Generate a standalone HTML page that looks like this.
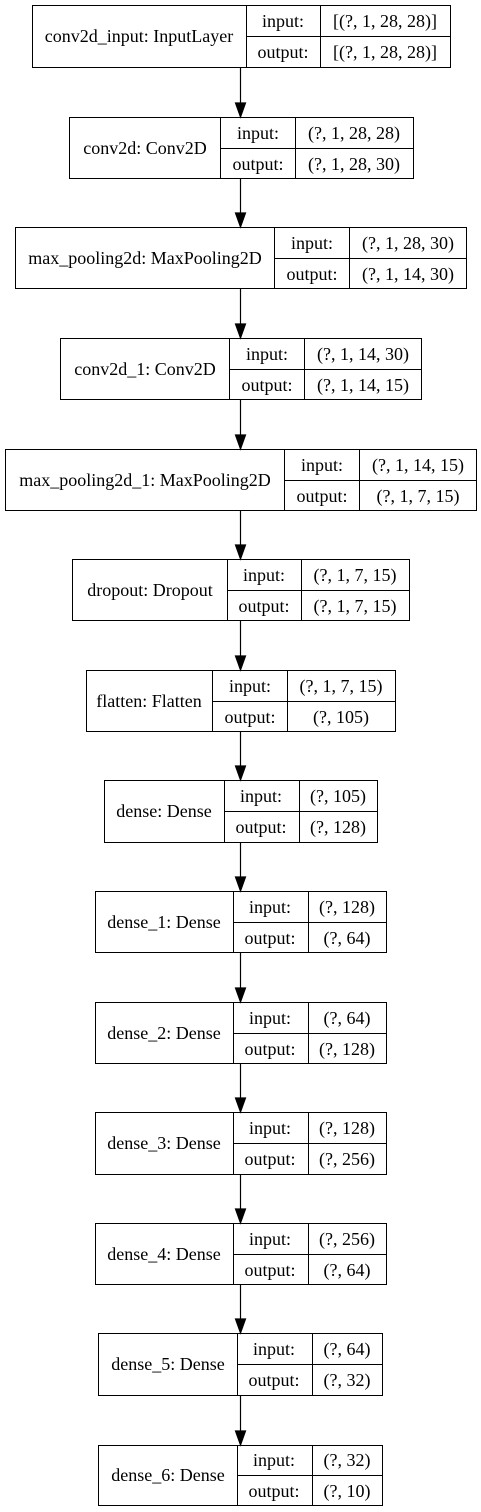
<!DOCTYPE html>
<html><head><meta charset="utf-8"><style>
html,body{margin:0;padding:0;background:#fff;}
svg{display:block;}
svg text{font-family:"Liberation Serif","Times New Roman",Times,serif;font-size:18px;fill:#000;}
</style></head><body>
<svg width="481" height="1512" viewBox="0 0 481 1512" xmlns="http://www.w3.org/2000/svg">
<g text-anchor="middle" font-family="Liberation Serif, Times New Roman, serif" font-size="18">
<rect x="32.5" y="5.5" width="418" height="62" fill="#fff" stroke="#000"/><line x1="246.5" y1="5.5" x2="246.5" y2="67.5" stroke="#000"/><line x1="320.5" y1="5.5" x2="320.5" y2="67.5" stroke="#000"/><line x1="246.5" y1="36.5" x2="450.5" y2="36.5" stroke="#000"/>
<text x="139" y="42">conv2d_input: InputLayer</text><text x="283" y="27">input:</text><text x="283" y="58">output:</text><text x="385" y="27">[(?, 1, 28, 28)]</text><text x="385" y="58">[(?, 1, 28, 28)]</text>

<rect x="69.5" y="117.5" width="344" height="61" fill="#fff" stroke="#000"/><line x1="220.5" y1="117.5" x2="220.5" y2="178.5" stroke="#000"/><line x1="295.5" y1="117.5" x2="295.5" y2="178.5" stroke="#000"/><line x1="220.5" y1="148.5" x2="413.5" y2="148.5" stroke="#000"/>
<text x="145" y="154">conv2d: Conv2D</text><text x="258" y="139">input:</text><text x="258" y="170">output:</text><text x="354" y="139">(?, 1, 28, 28)</text><text x="354" y="170">(?, 1, 28, 30)</text>

<rect x="15.5" y="227.5" width="451" height="61" fill="#fff" stroke="#000"/><line x1="274.5" y1="227.5" x2="274.5" y2="288.5" stroke="#000"/><line x1="349.5" y1="227.5" x2="349.5" y2="288.5" stroke="#000"/><line x1="274.5" y1="258.5" x2="466.5" y2="258.5" stroke="#000"/>
<text x="145" y="264">max_pooling2d: MaxPooling2D</text><text x="312" y="249">input:</text><text x="312" y="280">output:</text><text x="408" y="249">(?, 1, 28, 30)</text><text x="408" y="280">(?, 1, 14, 30)</text>

<rect x="60.5" y="338.5" width="361" height="61" fill="#fff" stroke="#000"/><line x1="229.5" y1="338.5" x2="229.5" y2="399.5" stroke="#000"/><line x1="304.5" y1="338.5" x2="304.5" y2="399.5" stroke="#000"/><line x1="229.5" y1="369.5" x2="421.5" y2="369.5" stroke="#000"/>
<text x="145" y="375">conv2d_1: Conv2D</text><text x="267" y="360">input:</text><text x="267" y="391">output:</text><text x="363" y="360">(?, 1, 14, 30)</text><text x="363" y="391">(?, 1, 14, 15)</text>

<rect x="5.5" y="449.5" width="471" height="61" fill="#fff" stroke="#000"/><line x1="284.5" y1="449.5" x2="284.5" y2="510.5" stroke="#000"/><line x1="359.5" y1="449.5" x2="359.5" y2="510.5" stroke="#000"/><line x1="284.5" y1="480.5" x2="476.5" y2="480.5" stroke="#000"/>
<text x="145" y="486">max_pooling2d_1: MaxPooling2D</text><text x="322" y="471">input:</text><text x="322" y="502">output:</text><text x="418" y="471">(?, 1, 14, 15)</text><text x="418" y="502">(?, 1, 7, 15)</text>

<rect x="72.5" y="559.5" width="337" height="61" fill="#fff" stroke="#000"/><line x1="227.5" y1="559.5" x2="227.5" y2="620.5" stroke="#000"/><line x1="301.5" y1="559.5" x2="301.5" y2="620.5" stroke="#000"/><line x1="227.5" y1="590.5" x2="409.5" y2="590.5" stroke="#000"/>
<text x="150" y="596">dropout: Dropout</text><text x="264" y="581">input:</text><text x="264" y="612">output:</text><text x="355" y="581">(?, 1, 7, 15)</text><text x="355" y="612">(?, 1, 7, 15)</text>

<rect x="86.5" y="670.5" width="309" height="61" fill="#fff" stroke="#000"/><line x1="212.5" y1="670.5" x2="212.5" y2="731.5" stroke="#000"/><line x1="287.5" y1="670.5" x2="287.5" y2="731.5" stroke="#000"/><line x1="212.5" y1="701.5" x2="395.5" y2="701.5" stroke="#000"/>
<text x="149" y="707">flatten: Flatten</text><text x="250" y="692">input:</text><text x="250" y="723">output:</text><text x="341" y="692">(?, 1, 7, 15)</text><text x="341" y="723">(?, 105)</text>

<rect x="104.5" y="780.5" width="273" height="62" fill="#fff" stroke="#000"/><line x1="224.5" y1="780.5" x2="224.5" y2="842.5" stroke="#000"/><line x1="299.5" y1="780.5" x2="299.5" y2="842.5" stroke="#000"/><line x1="224.5" y1="811.5" x2="377.5" y2="811.5" stroke="#000"/>
<text x="164" y="817">dense: Dense</text><text x="261" y="802">input:</text><text x="261" y="833">output:</text><text x="338" y="802">(?, 105)</text><text x="338" y="833">(?, 128)</text>

<rect x="95.5" y="891.5" width="291" height="61" fill="#fff" stroke="#000"/><line x1="233.5" y1="891.5" x2="233.5" y2="952.5" stroke="#000"/><line x1="308.5" y1="891.5" x2="308.5" y2="952.5" stroke="#000"/><line x1="233.5" y1="922.5" x2="386.5" y2="922.5" stroke="#000"/>
<text x="164" y="928">dense_1: Dense</text><text x="270" y="913">input:</text><text x="270" y="944">output:</text><text x="347" y="913">(?, 128)</text><text x="347" y="944">(?, 64)</text>

<rect x="95.5" y="1002.5" width="291" height="61" fill="#fff" stroke="#000"/><line x1="233.5" y1="1002.5" x2="233.5" y2="1063.5" stroke="#000"/><line x1="308.5" y1="1002.5" x2="308.5" y2="1063.5" stroke="#000"/><line x1="233.5" y1="1033.5" x2="386.5" y2="1033.5" stroke="#000"/>
<text x="164" y="1039">dense_2: Dense</text><text x="270" y="1024">input:</text><text x="270" y="1055">output:</text><text x="347" y="1024">(?, 64)</text><text x="347" y="1055">(?, 128)</text>

<rect x="95.5" y="1112.5" width="291" height="62" fill="#fff" stroke="#000"/><line x1="233.5" y1="1112.5" x2="233.5" y2="1174.5" stroke="#000"/><line x1="308.5" y1="1112.5" x2="308.5" y2="1174.5" stroke="#000"/><line x1="233.5" y1="1143.5" x2="386.5" y2="1143.5" stroke="#000"/>
<text x="164" y="1149">dense_3: Dense</text><text x="270" y="1134">input:</text><text x="270" y="1165">output:</text><text x="347" y="1134">(?, 128)</text><text x="347" y="1165">(?, 256)</text>

<rect x="95.5" y="1223.5" width="291" height="61" fill="#fff" stroke="#000"/><line x1="233.5" y1="1223.5" x2="233.5" y2="1284.5" stroke="#000"/><line x1="308.5" y1="1223.5" x2="308.5" y2="1284.5" stroke="#000"/><line x1="233.5" y1="1254.5" x2="386.5" y2="1254.5" stroke="#000"/>
<text x="164" y="1260">dense_4: Dense</text><text x="270" y="1245">input:</text><text x="270" y="1276">output:</text><text x="347" y="1245">(?, 256)</text><text x="347" y="1276">(?, 64)</text>

<rect x="98.5" y="1333.5" width="284" height="62" fill="#fff" stroke="#000"/><line x1="237.5" y1="1333.5" x2="237.5" y2="1395.5" stroke="#000"/><line x1="312.5" y1="1333.5" x2="312.5" y2="1395.5" stroke="#000"/><line x1="237.5" y1="1364.5" x2="382.5" y2="1364.5" stroke="#000"/>
<text x="168" y="1370">dense_5: Dense</text><text x="274" y="1355">input:</text><text x="274" y="1386">output:</text><text x="347" y="1355">(?, 64)</text><text x="347" y="1386">(?, 32)</text>

<rect x="98.5" y="1445.5" width="284" height="60" fill="#fff" stroke="#000"/><line x1="237.5" y1="1445.5" x2="237.5" y2="1505.5" stroke="#000"/><line x1="312.5" y1="1445.5" x2="312.5" y2="1505.5" stroke="#000"/><line x1="237.5" y1="1475.5" x2="382.5" y2="1475.5" stroke="#000"/>
<text x="168" y="1481">dense_6: Dense</text><text x="274" y="1466">input:</text><text x="274" y="1497">output:</text><text x="347" y="1466">(?, 32)</text><text x="347" y="1497">(?, 10)</text>
</g>
<g stroke="#000" stroke-width="1.2" fill="#000">
<line x1="240.5" y1="68" x2="240.5" y2="104"/><polygon points="235.5,103 245.5,103 240.5,117"/>
<line x1="240.5" y1="179" x2="240.5" y2="214"/><polygon points="235.5,213 245.5,213 240.5,227"/>
<line x1="240.5" y1="289" x2="240.5" y2="325"/><polygon points="235.5,324 245.5,324 240.5,338"/>
<line x1="240.5" y1="400" x2="240.5" y2="436"/><polygon points="235.5,435 245.5,435 240.5,449"/>
<line x1="240.5" y1="511" x2="240.5" y2="546"/><polygon points="235.5,545 245.5,545 240.5,559"/>
<line x1="240.5" y1="621" x2="240.5" y2="657"/><polygon points="235.5,656 245.5,656 240.5,670"/>
<line x1="240.5" y1="732" x2="240.5" y2="767"/><polygon points="235.5,766 245.5,766 240.5,780"/>
<line x1="240.5" y1="843" x2="240.5" y2="878"/><polygon points="235.5,877 245.5,877 240.5,891"/>
<line x1="240.5" y1="953" x2="240.5" y2="989"/><polygon points="235.5,988 245.5,988 240.5,1002"/>
<line x1="240.5" y1="1064" x2="240.5" y2="1099"/><polygon points="235.5,1098 245.5,1098 240.5,1112"/>
<line x1="240.5" y1="1175" x2="240.5" y2="1210"/><polygon points="235.5,1209 245.5,1209 240.5,1223"/>
<line x1="240.5" y1="1285" x2="240.5" y2="1320"/><polygon points="235.5,1319 245.5,1319 240.5,1333"/>
<line x1="240.5" y1="1396" x2="240.5" y2="1432"/><polygon points="235.5,1431 245.5,1431 240.5,1445"/>
</g>
</svg>
</body></html>
